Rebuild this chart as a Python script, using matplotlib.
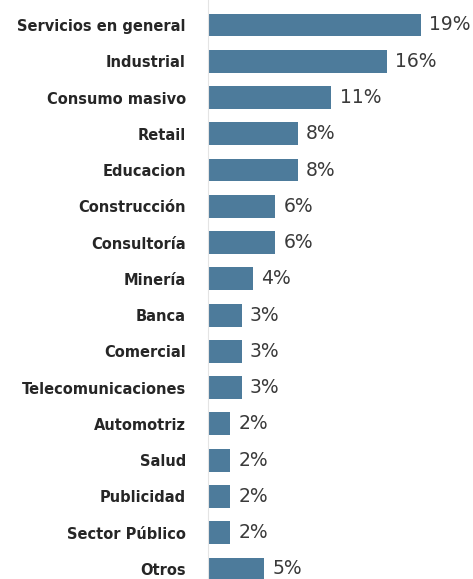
import matplotlib.pyplot as plt

sectores = ["Servicios en general", "Industrial", "Consumo masivo", "Retail",
            "Educacion", "Construcción", "Consultoría", "Minería", "Banca",
            "Comercial", "Telecomunicaciones", "Automotriz", "Salud",
            "Publicidad", "Sector Público", "Otros"]
porcentajes = [19, 16, 11, 8, 8, 6, 6, 4, 3, 3, 3, 2, 2, 2, 2, 5]

fig = plt.figure(figsize=(4.73, 5.79), dpi=100)
ax = fig.add_axes([208 / 473, 0, 263 / 473, 1])

pos = list(range(len(sectores)))
ax.barh(pos, porcentajes, height=0.63, color="#4d7b9b")

for y, v in zip(pos, porcentajes):
    ax.text(v + 0.75, y, f"{v}%", va="center", ha="left",
            fontsize=13.5, color="#3a3a3a", family="DejaVu Sans")

ax.set_yticks(pos)
ax.set_yticklabels(sectores, fontsize=10.5, fontweight="bold",
                   family="DejaVu Sans", color="#262626")
ax.tick_params(axis="y", length=0, pad=16)
ax.set_xticks([])
ax.set_xlim(0, 23.5)
ax.set_ylim(15.276, -0.689)

for s in ["top", "right", "bottom"]:
    ax.spines[s].set_visible(False)
ax.spines["left"].set_color("#e4e4e4")
ax.spines["left"].set_linewidth(0.8)

fig.savefig("out.png", dpi=100)
